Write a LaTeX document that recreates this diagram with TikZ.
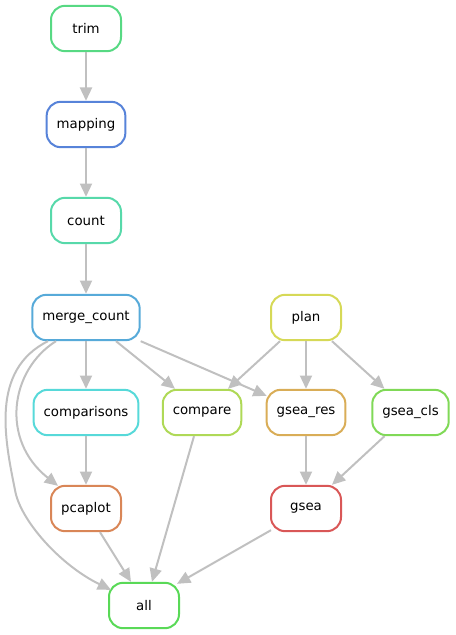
\documentclass[tikz,border=0pt]{standalone}
\usepackage{fontspec}
\setmainfont{DejaVu Sans}
\usepackage{tikz}
\usetikzlibrary{calc,arrows.meta}
\definecolor{edgegrey}{RGB}{192,192,192}
\definecolor{cgsea}{RGB}{217,87,87}
\definecolor{cpcaplot}{RGB}{217,134,87}
\definecolor{cgseares}{RGB}{217,173,87}
\definecolor{cplan}{RGB}{214,217,87}
\definecolor{ccompare}{RGB}{175,217,87}
\definecolor{cgseacls}{RGB}{128,217,87}
\definecolor{call}{RGB}{89,217,87}
\definecolor{ctrim}{RGB}{87,217,131}
\definecolor{ccount}{RGB}{87,217,170}
\definecolor{ccomparisons}{RGB}{87,217,217}
\definecolor{cmerge}{RGB}{87,170,217}
\definecolor{cmapping}{RGB}{87,131,217}
\tikzset{
	rule/.style={draw=#1, line width=1.5pt, rounded corners=10.5pt, fill=white,
		minimum width=52.5pt, minimum height=34pt, inner xsep=7.5pt,
		font=\fontsize{10}{12}\selectfont},
	edge/.style={draw=edgegrey, line width=1.5pt, -{Triangle[length=10pt,width=9pt]}}
}

\begin{document}
\begin{tikzpicture}[x=0.75pt, y=-0.75pt]
			%%%%% START %%%%%
			\useasboundingbox (0, 0) rectangle (455, 635);
			
			\node[rule=ctrim] (trim) at (86, 28.5) {trim};
			\node[rule=cmapping] (mapping) at (86, 124.5) {mapping};
			\node[rule=ccount] (count) at (86, 220.5) {count};
			\node[rule=cmerge] (mergecount) at (86, 317.5) {merge\_count};
			\node[rule=cplan] (plan) at (306, 317.5) {plan};
			
			\node[rule=ccomparisons] (comparisons) at (86, 412.5) {comparisons};
			\node[rule=ccompare] (compare) at (202, 412.5) {compare};
			\node[rule=cgseares] (gseares) at (306, 412.5) {gsea\_res};
			\node[rule=cgseacls] (gseacls) at (410.5, 412.5) {gsea\_cls};
			
			\node[rule=cpcaplot] (pcaplot) at (86, 508.5) {pcaplot};
			\node[rule=cgsea] (gsea) at (306, 508.5) {gsea};
			\node[rule=call] (all) at (144, 605.5) {all};
			
			% straight chain
			\draw[edge] (trim) -- (mapping);
			\draw[edge] (mapping) -- (count);
			\draw[edge] (count) -- (mergecount);
			\draw[edge] (mergecount) -- (comparisons);
			\draw[edge] (comparisons) -- (pcaplot);
			\draw[edge] (gseares) -- (gsea);
			\draw[edge] (plan) -- (gseares);
			
			% slanted edges
			\draw[edge] ($(mergecount.south)+(30,0)$) -- ($(compare.north)+(-27,0)$);
			\draw[edge] (mergecount.south east) -- ($(gseares.north west)+(1,7)$);
			\draw[edge] ($(plan.south)+(-26,0)$) -- ($(compare.north)+(26,0)$);
			\draw[edge] ($(plan.south)+(26,0)$) -- ($(gseacls.north)+(-26,0)$);
			\draw[edge] ($(gseacls.south)+(-26,0)$) -- ($(gsea.north)+(26,0)$);
			\draw[edge] ($(compare.south)+(-8,0)$) -- ($(all.north)+(8,0)$);
			\draw[edge] ($(pcaplot.south)+(14,0)$) -- ($(all.north)+(-13,0)$);
			\draw[edge] ($(gsea.south west)+(1,-2)$) -- ($(all.north east)+(-3,2)$);
			
			% curved edges on the left
			\draw[edge] ($(mergecount.south)+(-30,0)$) .. controls (10, 370) and (0, 440) .. ($(pcaplot.north west)+(8,1)$);
			\draw[edge] ($(mergecount.south)+(-38,0)$) .. controls (-10, 370) and (5, 440) .. (15, 490)
				.. controls (20, 520) and (60, 565) .. ($(all.north west)+(3,8)$);
			%%%%% END %%%%%
		\end{tikzpicture}
\end{document}
